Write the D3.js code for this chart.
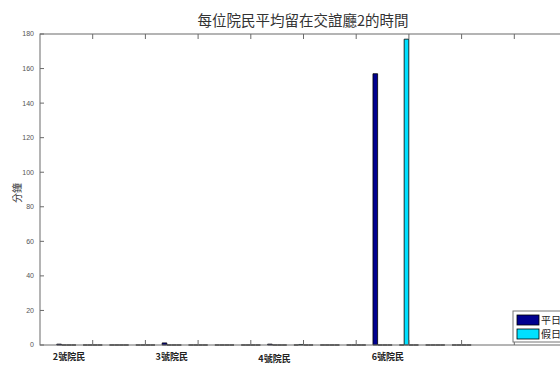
<!DOCTYPE html>
<meta charset="utf-8">
<style>
body { margin: 0; background: #fff; }
text { font-family: "Noto Sans CJK TC", "Noto Sans", sans-serif; }
.tick-label { font-family: "Liberation Sans", Arial, sans-serif; font-size: 7px; fill: #555; }
</style>
<body>
<script src="https://d3js.org/d3.v7.min.js"></script>
<script>

// data: 16 slots, four bars per slot (only the first two are in the legend)
var slots = d3.range(1, 17);
var weekday = [0.5, 0, 0, 0, 1.2, 0, 0, 0, 0.5, 0, 0, 0, 157, 0, 0, 0];   // 平日
var holiday = [0, 0, 0, 0, 0, 0, 0, 0, 0, 0.3, 0, 0, 0, 177, 0, 0];       // 假日
var third   = [0, 0, 0, 0, 0, 0, 0, 0, 0, 0, 0, 0, 0, 0, 0, 0];
var fourth  = [0, 0, 0, 0, 0, 0, 0, 0, 0, 0, 0, 0, 0, 0, 0, 0];
var legendNames = ["平日", "假日"];
var groupLabels = ["2號院民", "3號院民", "4號院民", "6號院民"];
var groupLabelSlots = [1.1, 5, 8.9, 13.2];
var yTicks = d3.range(0, 181, 20);
var xTicks = d3.range(2, 20, 2);

var colors = ["#00008f", "#00e0ff", "#ffff00", "#ff0000"];
var series = [weekday, holiday, third, fourth];

var width = 560, height = 365;
var margin = {left: 40, top: 34, bottom: 345, right: 567};

var svg = d3.select("body").append("svg")
    .attr("width", width)
    .attr("height", height);

svg.append("rect").attr("width", width).attr("height", height).attr("fill", "#fff");

var x = d3.scaleLinear().domain([0, 20]).range([margin.left, margin.right]);
var y = d3.scaleLinear().domain([0, 180]).range([margin.bottom, margin.top]);

// four bars share ~0.73 of a slot
var groupW = (x(1) - x(0)) * 0.727;
var inner = d3.scaleBand().domain(d3.range(4)).range([-groupW / 2, groupW / 2]).paddingInner(0.04);

// bars as paths so zero heights still draw an edge
var bars = svg.append("g");
series.forEach(function(vals, si) {
  bars.selectAll(".s" + si)
    .data(vals)
    .enter().append("path")
      .attr("class", "s" + si)
      .attr("d", function(d, i) {
        var x0 = x(slots[i]) + inner(si), x1 = x0 + inner.bandwidth();
        var p = d3.path();
        p.moveTo(x0, y(0)); p.lineTo(x1, y(0)); p.lineTo(x1, y(d)); p.lineTo(x0, y(d)); p.closePath();
        return p.toString();
      })
      .attr("fill", colors[si])
      .attr("stroke", "#000")
      .attr("stroke-width", 0.8);
});

// box
var axisColor = "#6a6a6a";
svg.append("rect")
    .attr("x", margin.left).attr("y", margin.top)
    .attr("width", margin.right - margin.left).attr("height", margin.bottom - margin.top)
    .attr("fill", "none").attr("stroke", axisColor).attr("stroke-width", 1);

// y ticks (inward) and labels
svg.append("g").selectAll("line").data(yTicks).enter().append("line")
    .attr("x1", margin.left).attr("x2", margin.left + 4)
    .attr("y1", function(d) { return y(d); }).attr("y2", function(d) { return y(d); })
    .attr("stroke", axisColor);
svg.append("g").selectAll("text").data(yTicks).enter().append("text")
    .attr("class", "tick-label")
    .attr("x", 34).attr("y", function(d) { return y(d); })
    .attr("dy", "0.35em")
    .attr("text-anchor", "end")
    .text(function(d) { return d; });

// x ticks top and bottom, pointing inward
var xt = svg.append("g");
xt.selectAll(".tb").data(xTicks).enter().append("line")
    .attr("x1", function(d) { return x(d); }).attr("x2", function(d) { return x(d); })
    .attr("y1", margin.bottom).attr("y2", margin.bottom - 5)
    .attr("stroke", axisColor);
xt.selectAll(".tt").data(xTicks).enter().append("line")
    .attr("x1", function(d) { return x(d); }).attr("x2", function(d) { return x(d); })
    .attr("y1", margin.top).attr("y2", margin.top + 5)
    .attr("stroke", axisColor);

// group labels under the axis
svg.append("g").selectAll("text").data(groupLabels).enter().append("text")
    .attr("x", function(d, i) { return x(groupLabelSlots[i]); })
    .attr("y", function(d, i) { return i == 2 ? 361.5 : 359.5; })
    .attr("text-anchor", "middle")
    .attr("font-size", 9)
    .attr("font-weight", "bold")
    .attr("fill", "#222")
    .text(function(d) { return d; });

// title
svg.append("text")
    .attr("x", 303).attr("y", 21)
    .attr("dy", "0.35em")
    .attr("text-anchor", "middle")
    .attr("font-size", 14.5)
    .attr("fill", "#333")
    .text("每位院民平均留在交誼廳2的時間");

// y label
svg.append("text")
    .attr("transform", "translate(17,193) rotate(-90)")
    .attr("dy", "0.35em")
    .attr("text-anchor", "middle")
    .attr("font-size", 10)
    .attr("fill", "#333")
    .text("分鐘");

// legend
var lg = svg.append("g").attr("transform", "translate(513,311)");
lg.append("rect").attr("width", 60).attr("height", 31)
    .attr("fill", "#fff").attr("stroke", "#777");
legendNames.forEach(function(name, i) {
  lg.append("rect")
      .attr("x", 4).attr("y", 4 + i * 14)
      .attr("width", 22).attr("height", 10)
      .attr("fill", colors[i]).attr("stroke", "#000").attr("stroke-width", 0.8);
  lg.append("text")
      .attr("x", 28).attr("y", 9 + i * 14)
      .attr("dy", "0.35em")
      .attr("font-size", 10)
      .attr("fill", "#222")
      .text(name);
});

</script>
</body>
